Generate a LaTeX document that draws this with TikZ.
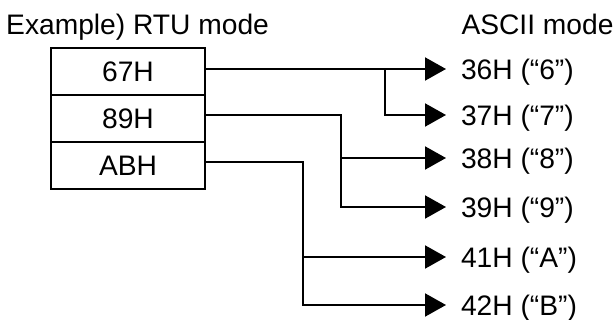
\documentclass[tikz,border=0pt]{standalone}
\usepackage{fontspec}
\setmainfont{Liberation Sans}
\usetikzlibrary{arrows.meta}
\tikzset{
  txt/.style={font=\fontsize{28.2}{34}\selectfont, inner sep=0pt},
  cell/.style={txt, draw, line width=2pt, minimum width=154pt, minimum height=47pt, outer sep=0pt},
  lab/.style={txt, anchor=west, inner xsep=14.8pt, inner ysep=0pt, text height=20.2pt, text depth=0pt},
  arr/.style={line width=2pt, -{Triangle[length=21pt,width=23pt]}},
}
\begin{document}
\begin{tikzpicture}[x=1pt,y=-1pt]
\useasboundingbox (0,0) rectangle (613,320);
\node[txt, anchor=base west] (t1) at (6,34.3) {Example) RTU mode};
\node[txt, anchor=base west] (t2) at (461.3,34.3) {ASCII mode};
\node[cell] (b1) at (128,72) {67H};
\node[cell] (b2) at (128,119) {89H};
\node[cell] (b3) at (128,166) {ABH};
\node[lab] (a1) at (446,69) {36H (“6”)};
\node[lab] (a2) at (446,115) {37H (“7”)};
\node[lab] (a3) at (446,158) {38H (“8”)};
\node[lab] (a4) at (446,207) {39H (“9”)};
\node[lab] (a5) at (446,257) {41H (“A”)};
\node[lab] (a6) at (446,305) {42H (“B”)};
\coordinate (k1) at (385,69);
\coordinate (k2) at (341,158);
\coordinate (k3) at (303,257);
\draw[arr] ([yshift=3pt]b1.east) -- (a1.west);
\draw[arr] (k1) |- (a2.west);
\draw[arr] ([yshift=4pt]b2.east) -| (k2) |- (a4.west);
\draw[arr] (k2) -- (a3.west);
\draw[arr] ([yshift=4pt]b3.east) -| (k3) |- (a6.west);
\draw[arr] (k3) -- (a5.west);
\end{tikzpicture}
\end{document}
